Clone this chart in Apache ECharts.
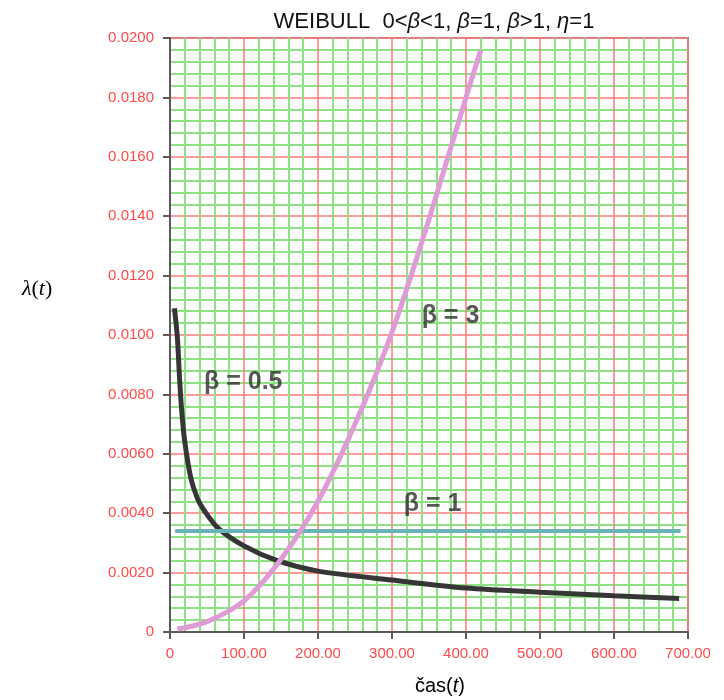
<!DOCTYPE html>
<html>
<head>
<meta charset="utf-8">
<title>Weibull hazard rate</title>
<script src="https://cdn.jsdelivr.net/npm/echarts@6/dist/echarts.min.js"></script>
<style>
  html, body { margin: 0; padding: 0; background: #fff; }
  #chart { width: 724px; height: 700px; }
</style>
</head>
<body>
<div id="chart"></div>
<script>
// Axis ranges and tick steps
const xTicks = { min: 0, max: 700, step: 100 };
const yTicks = { min: 0, max: 0.02, step: 0.002 };

// Hazard rate lambda(t) for beta = 0.5 (decreasing)
const tBeta05 = [6, 10, 13, 16, 20, 28, 37, 46, 65, 100, 145, 200, 300, 400, 500, 600, 688];
const vBeta05 = [0.0109, 0.0099, 0.0085, 0.0074, 0.0064, 0.0052, 0.0045, 0.0041, 0.0035, 0.0029,
                 0.0024, 0.00205, 0.00175, 0.00148, 0.00134, 0.00122, 0.00113];

// Hazard rate for beta = 1 (constant)
const tBeta1 = [7, 690];
const vBeta1 = [0.0034, 0.0034];

// Hazard rate for beta = 3 (increasing)
const tBeta3 = [10, 50, 100, 150, 200, 250, 300, 350, 400, 420];
const vBeta3 = [0.0001, 0.00035, 0.00105, 0.00245, 0.0044, 0.0070, 0.0101, 0.0139, 0.0180, 0.0196];

// Curve annotations: [t, lambda, text]
const curveLabels = [
  [99, 0.00843, 'β = 0.5'],
  [379, 0.01062, 'β = 3'],
  [355, 0.00429, 'β = 1']
];

const zip = (xs, ys) => xs.map((x, i) => [x, ys[i]]);

const red = '#ff4a4a';
const axisGray = '#5a5a5a';

const chart = echarts.init(document.getElementById('chart'), null, { renderer: 'canvas' });

chart.setOption({
  backgroundColor: '#ffffff',
  animation: false,
  title: {
    left: 429,
    top: 6,
    textAlign: 'center',
    text: '{n|WEIBULL  0<}{i|β}{n|<1, }{i|β}{n|=1, }{i|β}{n|>1, }{i|η}{n|=1}',
    textStyle: {
      fontWeight: 'normal',
      rich: {
        n: { fontFamily: 'Liberation Sans, Arial, sans-serif', fontSize: 22, fontWeight: 'normal', color: '#111' },
        i: { fontFamily: 'Liberation Sans, Arial, sans-serif', fontSize: 22, fontWeight: 'normal', fontStyle: 'italic', color: '#111' }
      }
    }
  },
  grid: {
    left: 170, right: 36, top: 38, bottom: 68,
    show: true,
    backgroundColor: '#ffffff',
    borderColor: '#8a8a8a',
    borderWidth: 2
  },
  xAxis: {
    type: 'value',
    min: xTicks.min, max: xTicks.max, interval: xTicks.step,
    axisLine: { show: true, onZero: false, lineStyle: { color: axisGray, width: 2 } },
    axisTick: { show: true, inside: false, length: 7, lineStyle: { color: axisGray, width: 2 } },
    axisLabel: {
      margin: 14,
      color: red,
      fontFamily: 'Liberation Sans, Arial, sans-serif',
      fontSize: 15,
      formatter: v => (v === 0 ? '0' : v.toFixed(2))
    },
    splitLine: { show: true, lineStyle: { color: '#ff7a7a', width: 1.5 } },
    minorTick: { show: false, splitNumber: 5 },
    minorSplitLine: { show: true, lineStyle: { color: '#8fe283', width: 2 } },
    z: 1
  },
  yAxis: {
    type: 'value',
    min: yTicks.min, max: yTicks.max, interval: yTicks.step,
    axisLine: { show: true, onZero: false, lineStyle: { color: axisGray, width: 2 } },
    axisTick: { show: true, inside: false, length: 7, lineStyle: { color: axisGray, width: 2 } },
    axisLabel: {
      margin: 16,
      color: red,
      fontFamily: 'Liberation Sans, Arial, sans-serif',
      fontSize: 15,
      formatter: v => (v === 0 ? '0' : v.toFixed(4))
    },
    splitLine: { show: true, lineStyle: { color: '#ff7a7a', width: 1.5 } },
    minorTick: { show: false, splitNumber: 5 },
    minorSplitLine: { show: true, lineStyle: { color: '#8fe283', width: 2 } },
    z: 1
  },
  graphic: [
    {
      type: 'text',
      left: 22, top: 278,
      style: {
        text: '{i|λ}{n|(}{i|t}{n|)}',
        rich: {
          i: { fontFamily: 'Liberation Serif, Times New Roman, serif', fontStyle: 'italic', fontSize: 22, fill: '#000' },
          n: { fontFamily: 'Liberation Serif, Times New Roman, serif', fontSize: 22, fill: '#000' }
        }
      }
    },
    {
      type: 'text',
      left: 415, top: 676,
      style: {
        text: '{n|čas(}{i|t}{n|)}',
        rich: {
          n: { fontFamily: 'Liberation Sans, Arial, sans-serif', fontSize: 20, fill: '#000' },
          i: { fontFamily: 'Liberation Sans, Arial, sans-serif', fontStyle: 'italic', fontSize: 20, fill: '#000' }
        }
      }
    }
  ],
  series: [
    {
      name: 'β = 0.5',
      type: 'line',
      data: zip(tBeta05, vBeta05),
      smooth: 0.3,
      showSymbol: false,
      lineStyle: { color: '#363636', width: 5 },
      z: 3
    },
    {
      name: 'β = 1',
      type: 'line',
      data: zip(tBeta1, vBeta1),
      showSymbol: false,
      lineStyle: { color: '#68b4b4', width: 4 },
      z: 4
    },
    {
      name: 'β = 3',
      type: 'line',
      data: zip(tBeta3, vBeta3),
      smooth: 0.3,
      showSymbol: false,
      lineStyle: { color: '#de9bd6', width: 5 },
      z: 5
    },
    {
      name: 'labels',
      type: 'scatter',
      data: curveLabels,
      symbolSize: 0,
      silent: true,
      label: {
        show: true,
        position: 'inside',
        formatter: p => p.data[2],
        fontFamily: 'Liberation Sans, Arial, sans-serif',
        fontWeight: 'bold',
        fontSize: 25,
        color: '#2e2e2e'
      },
      z: 6
    }
  ]
});
</script>
</body>
</html>
